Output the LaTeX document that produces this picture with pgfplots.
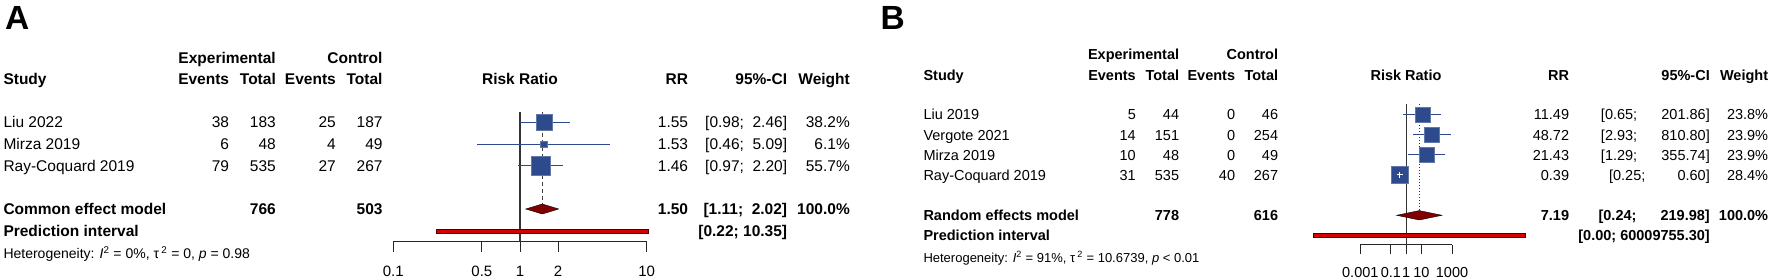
\documentclass[border=0pt]{standalone}
\usepackage{fontspec}
\setmainfont{Liberation Sans}
\usepackage{pgfplots}
\pgfplotsset{compat=1.18}
\definecolor{sqblue}{RGB}{45,75,140}
\definecolor{dred}{RGB}{128,0,0}
\definecolor{pred}{RGB}{215,0,0}
\newcommand{\tl}[3]{\node[anchor=base west,inner sep=0pt] at (#1pt,#2pt) {#3};}
\newcommand{\tr}[3]{\node[anchor=base east,inner sep=0pt] at (#1pt,#2pt) {#3};}
\newcommand{\tc}[3]{\node[anchor=base,inner sep=0pt] at (#1pt,#2pt) {#3};}
\begin{document}
\begin{tikzpicture}
\useasboundingbox (0,0) rectangle (1772pt,280pt);
% ---------------- Panel A ----------------
\node[anchor=base west,inner sep=0pt,font=\fontsize{33.5}{36}\selectfont\bfseries] at (5pt,250pt) {A};
\begin{scope}[font=\fontsize{15.5}{18}\selectfont]
\tr{276}{216}{\bfseries Experimental}
\tr{382.7}{216}{\bfseries Control}
\tl{3.3}{195}{\bfseries Study}
\tr{229.3}{195}{\bfseries Events}
\tr{276}{195}{\bfseries Total}
\tr{336}{195}{\bfseries Events}
\tr{382.7}{195}{\bfseries Total}
\tc{520}{195}{\bfseries Risk Ratio}
\tr{688.3}{195}{\bfseries RR}
\tr{787.3}{195}{\bfseries 95\%-CI}
\tr{850}{195}{\bfseries Weight}
% rows
\tl{3.3}{152}{Liu 2022}\tr{229.3}{152}{38}\tr{276}{152}{183}\tr{336}{152}{25}\tr{382.7}{152}{187}
\tr{688.3}{152}{1.55}\tr{787.3}{152}{[0.98;~~2.46]}\tr{850}{152}{38.2\%}
\tl{3.3}{130}{Mirza 2019}\tr{229.3}{130}{6}\tr{276}{130}{48}\tr{336}{130}{4}\tr{382.7}{130}{49}
\tr{688.3}{130}{1.53}\tr{787.3}{130}{[0.46;~~5.09]}\tr{850}{130}{6.1\%}
\tl{3.3}{108.3}{Ray-Coquard 2019}\tr{229.3}{108.3}{79}\tr{276}{108.3}{535}\tr{336}{108.3}{27}\tr{382.7}{108.3}{267}
\tr{688.3}{108.3}{1.46}\tr{787.3}{108.3}{[0.97;~~2.20]}\tr{850}{108.3}{55.7\%}
\tl{3.3}{65.3}{\bfseries Common effect model}\tr{276}{65.3}{\bfseries 766}\tr{382.7}{65.3}{\bfseries 503}
\tr{688.3}{65.3}{\bfseries 1.50}\tr{787.3}{65.3}{\bfseries [1.11;~~2.02]}\tr{850}{65.3}{\bfseries 100.0\%}
\tl{3.3}{43.3}{\bfseries Prediction interval}\tr{787.3}{43.3}{\bfseries [0.22; 10.35]}
\end{scope}
\node[anchor=base west,inner sep=0pt,font=\fontsize{14}{16}\selectfont] at (3.3pt,21.7pt)
 {Heterogeneity: \textit{I}\textsuperscript{2} = 0\%, τ\,\textsuperscript{2} = 0, \textit{p} = 0.98};
\begin{axis}[at={(393.3pt,38.3pt)}, anchor=south west,
  scale only axis, clip=false, xmode=log,
  axis x line*=bottom, axis y line=none, ytick=\empty,
  xminorticks=false, tick align=outside,
  axis line style={line width=1pt, black!85},
  every tick/.style={line width=1pt, black!85},
  width=253.4pt, height=141.7pt, xmin=0.1, xmax=10, ymin=38.3, ymax=180,
  xtick={0.1,0.5,1,2,10}, xticklabels={0.1,0.5,1,2,10}, major tick length=10pt,
  xticklabel style={anchor=base, inner sep=0pt, font=\fontsize{15}{15}\selectfont, yshift=-25.2pt}]
\addplot[line width=1.2pt, black!80] coordinates {(1,38.3) (1,168.3)};
\addplot[line width=0.8pt, black!75, dash pattern=on 4pt off 3pt] coordinates {(1.50,168.3) (1.50,76)};
\addplot[line width=1pt, sqblue] coordinates {(0.98,157.7) (2.46,157.7)};
\addplot[line width=1pt, sqblue] coordinates {(0.46,135.7) (5.09,135.7)};
\addplot[line width=1pt, sqblue] coordinates {(0.97,114) (2.20,114)};
\addplot[only marks, mark=square*, mark size=8pt, mark options={fill=sqblue, draw=sqblue!75!white, line width=0.4pt}] coordinates {(1.55,157.7)};
\addplot[only marks, mark=square*, mark size=3.35pt, mark options={fill=sqblue, draw=sqblue!75!white, line width=0.4pt}] coordinates {(1.53,135.7)};
\addplot[only marks, mark=square*, mark size=9.3pt, mark options={fill=sqblue, draw=sqblue!75!white, line width=0.4pt}] coordinates {(1.46,114)};
\addplot[fill=dred, draw=black, line width=0.4pt] coordinates {(1.11,71) (1.50,76) (2.02,71) (1.50,66)} -- cycle;
\addplot[fill=pred, draw=dred!60!black, line width=0.7pt] coordinates {(0.22,46.7) (10.35,46.7) (10.35,51) (0.22,51)} -- cycle;
\end{axis}
% ---------------- Panel B ----------------
\node[anchor=base west,inner sep=0pt,font=\fontsize{33.5}{36}\selectfont\bfseries] at (880.5pt,250.7pt) {B};
\begin{scope}[font=\fontsize{14.5}{17}\selectfont]
\tr{1179.3}{220.3}{\bfseries Experimental}
\tr{1278.3}{220.3}{\bfseries Control}
\tl{923.3}{199.5}{\bfseries Study}
\tr{1136}{199.5}{\bfseries Events}
\tr{1179.3}{199.5}{\bfseries Total}
\tr{1235.3}{199.5}{\bfseries Events}
\tr{1278.3}{199.5}{\bfseries Total}
\tc{1406}{199.5}{\bfseries Risk Ratio}
\tr{1569.3}{199.5}{\bfseries RR}
\tr{1710}{199.5}{\bfseries 95\%-CI}
\tr{1768.3}{199.5}{\bfseries Weight}
\tl{923.3}{160}{Liu 2019}\tr{1136}{160}{5}\tr{1179.3}{160}{44}\tr{1235.3}{160}{0}\tr{1278.3}{160}{46}
\tr{1569.3}{160}{11.49}\tr{1710}{160}{[0.65;~~~~~~201.86]}\tr{1768.3}{160}{23.8\%}
\tl{923.3}{139.3}{Vergote 2021}\tr{1136}{139.3}{14}\tr{1179.3}{139.3}{151}\tr{1235.3}{139.3}{0}\tr{1278.3}{139.3}{254}
\tr{1569.3}{139.3}{48.72}\tr{1710}{139.3}{[2.93;~~~~~~810.80]}\tr{1768.3}{139.3}{23.9\%}
\tl{923.3}{119.3}{Mirza 2019}\tr{1136}{119.3}{10}\tr{1179.3}{119.3}{48}\tr{1235.3}{119.3}{0}\tr{1278.3}{119.3}{49}
\tr{1569.3}{119.3}{21.43}\tr{1710}{119.3}{[1.29;~~~~~~355.74]}\tr{1768.3}{119.3}{23.9\%}
\tl{923.3}{99.3}{Ray-Coquard 2019}\tr{1136}{99.3}{31}\tr{1179.3}{99.3}{535}\tr{1235.3}{99.3}{40}\tr{1278.3}{99.3}{267}
\tr{1569.3}{99.3}{0.39}\tr{1710}{99.3}{[0.25;~~~~~~~~0.60]}\tr{1768.3}{99.3}{28.4\%}
\tl{923.3}{59.3}{\bfseries Random effects model}\tr{1179.3}{59.3}{\bfseries 778}\tr{1278.3}{59.3}{\bfseries 616}
\tr{1569.3}{59.3}{\bfseries 7.19}\tr{1710}{59.3}{\bfseries [0.24;~~~~~~219.98]}\tr{1768.3}{59.3}{\bfseries 100.0\%}
\tl{923.3}{39.3}{\bfseries Prediction interval}\tr{1710}{39.3}{\bfseries [0.00; 60009755.30]}
\end{scope}
\node[anchor=base west,inner sep=0pt,font=\fontsize{13}{15}\selectfont] at (923.3pt,17.7pt)
 {Heterogeneity: \textit{I}\textsuperscript{2} = 91\%, τ\,\textsuperscript{2} = 10.6739, \textit{p} < 0.01};
\begin{axis}[at={(1360.3pt,35pt)}, anchor=south west,
  scale only axis, clip=false, xmode=log,
  axis x line*=bottom, axis y line=none, ytick=\empty,
  xminorticks=false, tick align=outside,
  axis line style={line width=1pt, black!85},
  every tick/.style={line width=1pt, black!85},
  width=91.7pt, height=145pt, xmin=0.001, xmax=1000, ymin=35, ymax=180,
  xtick={0.001,0.1,1,10,1000}, xticklabels={0.001,0.1,1,10,1000}, major tick length=9pt,
  xticklabel style={anchor=base, inner sep=0pt, font=\fontsize{14.5}{15}\selectfont, yshift=-23.5pt}]
\addplot[line width=1.2pt, black!80] coordinates {(1,35) (1,175.7)};
\addplot[line width=0.9pt, black!80, dash pattern=on 1.2pt off 1.8pt] coordinates {(7.19,175.7) (7.19,69.4)};
\addplot[line width=1pt, sqblue] coordinates {(0.65,165.5) (201.86,165.5)};
\addplot[line width=1pt, sqblue] coordinates {(2.93,145.2) (810.80,145.2)};
\addplot[line width=1pt, sqblue] coordinates {(1.29,125.2) (355.74,125.2)};
\addplot[only marks, mark=square*, mark size=7.5pt, mark options={fill=sqblue, draw=sqblue!75!white, line width=0.4pt}] coordinates {(11.49,165.5)};
\addplot[only marks, mark=square*, mark size=7.5pt, mark options={fill=sqblue, draw=sqblue!75!white, line width=0.4pt}] coordinates {(48.72,145.2)};
\addplot[only marks, mark=square*, mark size=7.5pt, mark options={fill=sqblue, draw=sqblue!75!white, line width=0.4pt}] coordinates {(21.43,125.2)};
\addplot[only marks, mark=square*, mark size=8.3pt, mark options={fill=sqblue, draw=sqblue!75!white, line width=0.4pt}] coordinates {(0.39,105)};
\addplot[only marks, mark=+, mark size=2.8pt, mark options={draw=white, line width=1pt}] coordinates {(0.39,105)};
\addplot[fill=dred, draw=black, line width=0.4pt] coordinates {(0.24,64.7) (7.19,69.4) (219.98,64.7) (7.19,60)} -- cycle;
\addplot[fill=pred, draw=dred!60!black, line width=0.7pt] coordinates {(7.9e-7,42.7) (60009755.30,42.7) (60009755.30,46.7) (7.9e-7,46.7)} -- cycle;
\end{axis}
\end{tikzpicture}
\end{document}
